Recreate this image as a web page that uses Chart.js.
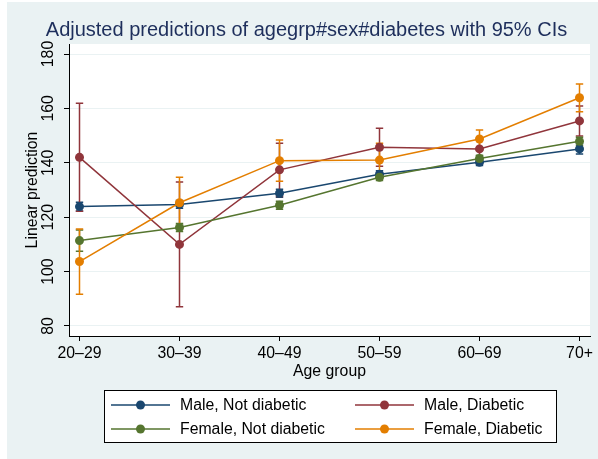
<!DOCTYPE html>
<html>
<head>
<meta charset="utf-8">
<script src="https://cdn.jsdelivr.net/npm/chart.js@4/dist/chart.umd.min.js"></script>
<style>
  html, body { margin: 0; padding: 0; background: #fff; }
  canvas { display: block; }
</style>
</head>
<body>
<canvas id="chart" width="598" height="459"></canvas>
<script>
// datos
const categories = ['20–29', '30–39', '40–49', '50–59', '60–69', '70+'];
const yTicks = [80, 100, 120, 140, 160, 180];
const seriesNames = ['Male, Not diabetic', 'Male, Diabetic', 'Female, Not diabetic', 'Female, Diabetic'];

const maleNot = [123.9, 124.7, 128.8, 135.8, 140.2, 145.1];
const maleNotLo = [122.3, 123.3, 127.3, 134.5, 139.0, 143.2];
const maleNotHi = [125.5, 126.1, 130.3, 137.1, 141.4, 147.0];

const maleDiab = [142.0, 110.0, 137.4, 145.7, 145.1, 155.4];
const maleDiabLo = [122.2, 87.1, 127.6, 138.7, 141.5, 149.9];
const maleDiabHi = [161.9, 132.9, 147.2, 152.7, 148.7, 160.9];

const femNot = [111.4, 116.2, 124.4, 134.7, 141.6, 147.9];
const femNotLo = [107.5, 114.7, 122.9, 133.5, 140.4, 146.4];
const femNotHi = [115.3, 117.7, 125.9, 135.9, 142.8, 149.4];

const femDiab = [103.7, 125.3, 140.8, 141.0, 148.75, 163.9];
const femDiabLo = [91.7, 115.9, 133.2, 134.8, 145.3, 158.8];
const femDiabHi = [115.7, 134.7, 148.4, 147.2, 152.1, 169.0];

const colors = ['#1a476f', '#90353b', '#55752f', '#e37e00'];
const bgColor = '#eaf2f3';
const textColor = '#000';
const fontFam = '"Liberation Sans", Arial, sans-serif';

Chart.defaults.font.family = fontFam;

const values = [maleNot, maleDiab, femNot, femDiab];
const lows = [maleNotLo, maleDiabLo, femNotLo, femDiabLo];
const highs = [maleNotHi, maleDiabHi, femNotHi, femDiabHi];

function makeDataset(i) {
  return {
    label: seriesNames[i],
    data: values[i].map((v, k) => ({ x: k, y: v })),
    borderColor: colors[i],
    backgroundColor: colors[i],
    borderWidth: 1.5,
    pointRadius: 4.5,
    pointBorderWidth: 0,
    pointHoverRadius: 4.5,
    tension: 0,
    order: 4 - i   // el naranja queda encima
  };
}

// fondo, intervalos de confianza, titulo y leyenda
const stataLook = {
  id: 'stataLook',
  beforeDraw(chart) {
    const { ctx, chartArea: a } = chart;
    ctx.save();
    ctx.fillStyle = '#fff';
    ctx.fillRect(0, 0, chart.width, chart.height);
    ctx.fillStyle = bgColor;
    ctx.fillRect(7, 2, chart.width - 7, chart.height - 2);
    ctx.fillStyle = '#fff';
    ctx.fillRect(a.left, a.top, a.right - a.left, a.bottom - a.top);
    ctx.restore();
  },
  beforeDatasetsDraw(chart) {
    const { ctx, scales: { x, y } } = chart;
    ctx.save();
    ctx.lineWidth = 1.5;
    for (let i = 0; i < 4; i++) {
      ctx.strokeStyle = colors[i];
      lows[i].forEach((lo, k) => {
        const px = x.getPixelForValue(k);
        const y1 = y.getPixelForValue(lo);
        const y2 = y.getPixelForValue(highs[i][k]);
        ctx.beginPath();
        ctx.moveTo(px, y1); ctx.lineTo(px, y2);
        ctx.moveTo(px - 3.7, y1); ctx.lineTo(px + 3.7, y1);
        ctx.moveTo(px - 3.7, y2); ctx.lineTo(px + 3.7, y2);
        ctx.stroke();
      });
    }
    ctx.restore();
  },
  afterDraw(chart) {
    const { ctx } = chart;
    ctx.save();
    ctx.fillStyle = '#1e2f5c';
    ctx.font = '20px ' + fontFam;
    ctx.textAlign = 'center';
    ctx.textBaseline = 'alphabetic';
    ctx.fillText('Adjusted predictions of agegrp#sex#diabetes with 95% CIs', 306.5, 35.5);

    // leyenda
    ctx.fillStyle = '#fff';
    ctx.fillRect(104.5, 390.5, 452, 52);
    ctx.strokeStyle = '#000';
    ctx.lineWidth = 1;
    ctx.strokeRect(104.5, 390.5, 452, 52);
    const cols = [111, 355];
    const rows = [405, 429];
    ctx.font = '15.8px ' + fontFam;
    ctx.textAlign = 'left';
    ctx.textBaseline = 'middle';
    seriesNames.forEach((name, i) => {
      const lx = cols[i % 2];
      const ly = rows[Math.floor(i / 2)];
      ctx.strokeStyle = colors[i];
      ctx.lineWidth = 1.5;
      ctx.beginPath();
      ctx.moveTo(lx, ly); ctx.lineTo(lx + 59, ly);
      ctx.stroke();
      ctx.fillStyle = colors[i];
      ctx.beginPath();
      ctx.arc(lx + 29.5, ly, 4.5, 0, Math.PI * 2);
      ctx.fill();
      ctx.fillStyle = textColor;
      ctx.fillText(name, lx + 69, ly + 1);
    });
    ctx.restore();
  }
};

const ctx = document.getElementById('chart').getContext('2d');
new Chart(ctx, {
  type: 'line',
  data: { datasets: [0, 1, 2, 3].map(makeDataset) },
  plugins: [stataLook],
  options: {
    responsive: false,
    animation: false,
    events: [],
    layout: { padding: { top: 44, right: 8, left: 0, bottom: 0 } },
    plugins: { legend: { display: false }, tooltip: { enabled: false } },
    scales: {
      x: {
        type: 'linear',
        min: -0.105,
        max: 5.105,
        afterBuildTicks: s => { s.ticks = categories.map((c, i) => ({ value: i })); },
        afterFit: s => { s.height = 123; },
        ticks: {
          callback: v => categories[v],
          color: textColor,
          font: { size: 15.8 },
          padding: 3,
          maxRotation: 0,
          autoSkip: false
        },
        grid: { drawOnChartArea: false, drawTicks: true, tickLength: 5, tickColor: '#000' },
        border: { color: '#000', width: 1 },
        title: { display: true, text: 'Age group', color: textColor, font: { size: 15.8 }, padding: { top: 0, bottom: 78 } }
      },
      y: {
        min: 76.32,
        max: 183.68,
        afterBuildTicks: s => { s.ticks = yTicks.map(v => ({ value: v })); },
        afterFit: s => { s.width = 69; },
        ticks: {
          color: textColor,
          font: { size: 15.8 },
          minRotation: 90,
          maxRotation: 90,
          crossAlign: 'center',
          padding: 2
        },
        grid: { color: bgColor, lineWidth: 1, tickLength: 5, tickColor: '#000' },
        border: { color: '#000', width: 1 },
        title: { display: true, text: 'Linear prediction', color: textColor, font: { size: 15.8 }, padding: { top: 23.5, bottom: 0 } }
      }
    }
  }
});
</script>
</body>
</html>
